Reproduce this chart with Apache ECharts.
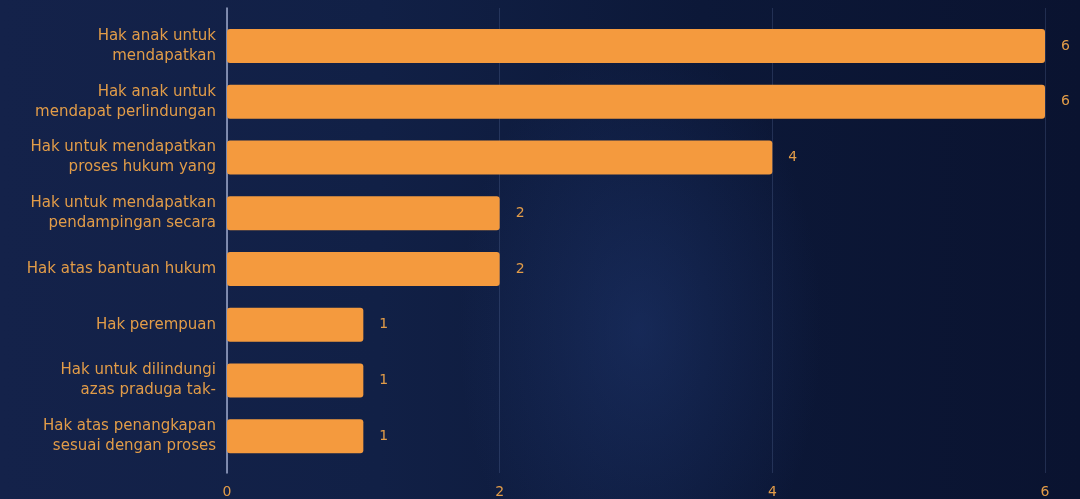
<!DOCTYPE html>
<html><head><meta charset="utf-8">
<script src="https://cdn.jsdelivr.net/npm/echarts@6/dist/echarts.min.js"></script>
<style>
html,body{margin:0;padding:0;width:1080px;height:499px;overflow:hidden;}
body{background:
 radial-gradient(ellipse 260px 420px at 640px 330px, rgba(40,70,140,0.35), rgba(0,0,0,0) 70%),
 linear-gradient(90deg,#14224a 0%,#112046 35%,#0c1838 65%,#0a1330 100%);}
#c{width:1080px;height:499px;}
</style></head><body><div id="c"></div>
<script>
const categories = [
  "Hak anak untuk\nmendapatkan",
  "Hak anak untuk\nmendapat perlindungan",
  "Hak untuk mendapatkan\nproses hukum yang",
  "Hak untuk mendapatkan\npendampingan secara",
  "Hak atas bantuan hukum",
  "Hak perempuan",
  "Hak untuk dilindungi\nazas praduga tak-",
  "Hak atas penangkapan\nsesuai dengan proses"
];
const values = [6, 6, 4, 2, 2, 1, 1, 1];
const xTicks = [0, 2, 4, 6];

const orange = '#F49A3E';
const labelColor = '#E29C48';
const font = 'DejaVu Sans, Liberation Sans, Arial';
const chart = echarts.init(document.getElementById('c'));
chart.setOption({
  backgroundColor: 'transparent',
  animation: false,
  grid: [
    {left: 227, right: 35, top: 18, bottom: 35},
    {left: 227, right: 35, top: 8, bottom: 25}
  ],
  xAxis: [
    {gridIndex: 0, type: 'value', min: 0, max: 6, interval: 2, show: false},
    {gridIndex: 1, type: 'value', min: 0, max: 6, interval: 2,
     axisLine: {show: false}, axisTick: {show: false},
     axisLabel: {color: labelColor, fontSize: 14, fontFamily: font, margin: 12,
       formatter: v => xTicks.includes(v) ? String(v) : ''},
     splitLine: {show: true, lineStyle: {color: 'rgba(120,140,190,0.22)', width: 1}}}
  ],
  yAxis: [
    {gridIndex: 0, type: 'category', data: categories, inverse: true,
     axisLine: {show: false}, axisTick: {show: false},
     axisLabel: {color: labelColor, fontSize: 15, fontFamily: font, margin: 11, lineHeight: 20, align: 'right'}},
    {gridIndex: 1, type: 'category', data: [''], show: true,
     axisLine: {show: true, lineStyle: {color: '#9FAACB', width: 1.5}},
     axisTick: {show: false}, axisLabel: {show: false}}
  ],
  series: [{
    type: 'bar', xAxisIndex: 0, yAxisIndex: 0, data: values,
    barWidth: 34,
    itemStyle: {color: orange, borderRadius: 3},
    label: {show: true, position: 'right', distance: 16, color: labelColor, fontSize: 14, fontFamily: font}
  }]
});
</script></body></html>
